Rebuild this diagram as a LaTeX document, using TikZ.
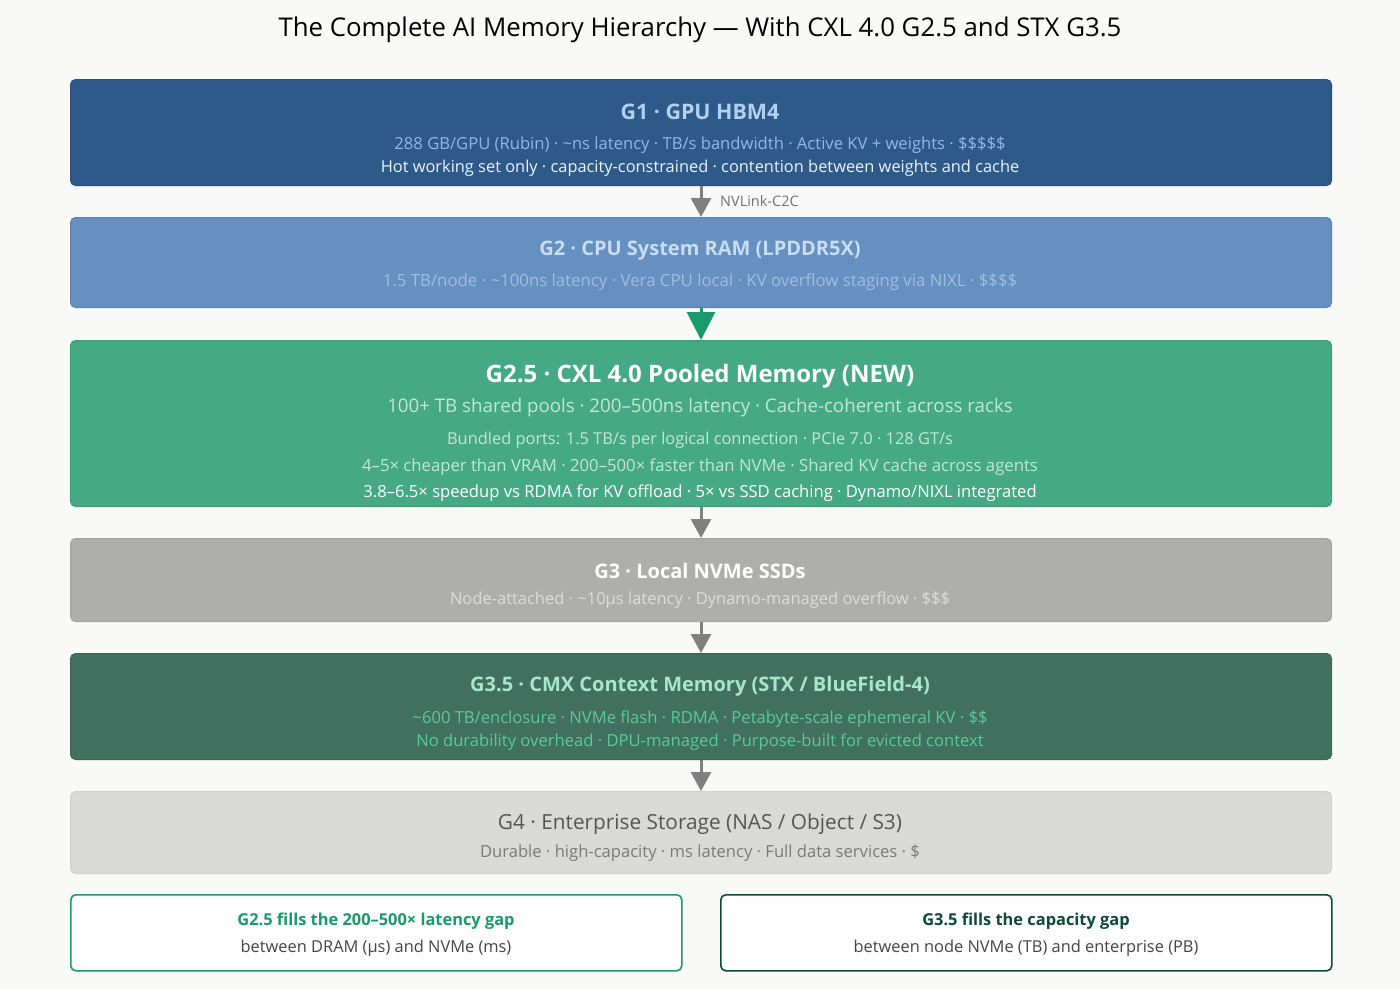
\documentclass[tikz,border=0pt]{standalone}
\usepackage{fontspec}
\setmainfont{Open Sans}
\usetikzlibrary{arrows.meta}
\definecolor{bgc}{HTML}{F9F9F7}
\definecolor{gonefill}{HTML}{2E5A8A}
\definecolor{goneline}{HTML}{285080}
\definecolor{gonetitle}{HTML}{B2D0F0}
\definecolor{gonetext}{HTML}{8FB8E6}
\definecolor{gonetextb}{HTML}{EAF2FA}
\definecolor{gtwofill}{HTML}{6690C0}
\definecolor{gtwoline}{HTML}{5A84B6}
\definecolor{gtwotitle}{HTML}{C8DCF2}
\definecolor{gtwotext}{HTML}{9DBEE3}
\definecolor{garrow}{HTML}{1A9A6C}
\definecolor{gtfifill}{HTML}{45A985}
\definecolor{gtfiline}{HTML}{3C9C79}
\definecolor{gtfitext}{HTML}{C3E7D5}
\definecolor{gthrfill}{HTML}{AEAEAC}
\definecolor{gthrline}{HTML}{A4A4A2}
\definecolor{gthrtext}{HTML}{DCDCDC}
\definecolor{gtffill}{HTML}{417060}
\definecolor{gtfline}{HTML}{3A6656}
\definecolor{gtftitle}{HTML}{A6E6CB}
\definecolor{gtftext}{HTML}{5CC99C}
\definecolor{gfourfill}{HTML}{D9D9D7}
\definecolor{gfourline}{HTML}{D0D0CE}
\definecolor{gfourtitle}{HTML}{555555}
\definecolor{gfourtext}{HTML}{7A7A7A}
\definecolor{notegreen}{HTML}{1A9A6C}
\definecolor{notedark}{HTML}{0E4A38}
\definecolor{notetext}{HTML}{444444}
\definecolor{arrowgray}{HTML}{808080}
\tikzset{
  tier/.style={draw, line width=1pt, rounded corners=5pt, minimum width=1261pt, inner sep=0pt, anchor=north west},
  note/.style={draw, line width=1.6pt, rounded corners=5pt, fill=white, minimum width=611pt, minimum height=76pt, inner sep=0pt, anchor=north west},
  ttl/.style={font=\fontsize{20}{24}\selectfont\bfseries, anchor=center, inner sep=0pt},
  sub/.style={font=\fontsize{16.6}{19}\selectfont, anchor=center, inner sep=0pt},
  flow/.style={draw=arrowgray, line width=3pt, -{Triangle[width=20pt,length=19pt]}},
}
\begin{document}
\begin{tikzpicture}[x=1pt,y=-1pt]
\useasboundingbox[fill=bgc] (0,0) rectangle (1400,989);
\node[font=\fontsize{25.8}{30}\selectfont, anchor=center, inner sep=0pt] (title) at (700,30) {The Complete AI Memory Hierarchy — With CXL 4.0 G2.5 and STX G3.5};

% tiers
\node[tier, fill=gonefill, draw=goneline, minimum height=106pt] (g1) at (70,79) {};
\node[tier, fill=gtwofill, draw=gtwoline, minimum height=90pt] (g2) at (70,217) {};
\node[tier, fill=gtfifill, draw=gtfiline, minimum height=166pt] (g25) at (70,340) {};
\node[tier, fill=gthrfill, draw=gthrline, minimum height=83pt] (g3) at (70,538) {};
\node[tier, fill=gtffill, draw=gtfline, minimum height=106pt] (g35) at (70,653) {};
\node[tier, fill=gfourfill, draw=gfourline, minimum height=82pt] (g4) at (70,791) {};

% G1 text
\node[ttl, font=\fontsize{21.4}{25}\selectfont\bfseries, text=gonetitle] (g1t) at (700,112) {G1 · GPU HBM4};
\node[sub, text=gonetext] (g1a) at (700,145) {288 GB/GPU (Rubin) · \textasciitilde ns latency · TB/s bandwidth · Active KV + weights · \$\$\$\$\$};
\node[sub, font=\fontsize{16.4}{19}\selectfont, text=gonetextb] (g1b) at (700,168) {Hot working set only · capacity-constrained · contention between weights and cache};

% G2 text
\node[ttl, text=gtwotitle] (g2t) at (700,251) {G2 · CPU System RAM (LPDDR5X)};
\node[sub, font=\fontsize{16.8}{19}\selectfont, text=gtwotext] (g2a) at (700,282) {1.5 TB/node · \textasciitilde 100ns latency · Vera CPU local · KV overflow staging via NIXL · \$\$\$\$};

% G2.5 text
\node[ttl, font=\fontsize{24}{28}\selectfont\bfseries, text=white] (g25t) at (700,376) {G2.5 · CXL 4.0 Pooled Memory (NEW)};
\node[sub, font=\fontsize{18.7}{22}\selectfont, text=gtfitext] (g25a) at (700,408) {100+ TB shared pools · 200–500ns latency · Cache-coherent across racks};
\node[sub, font=\fontsize{16.4}{19}\selectfont, text=gtfitext] (g25b) at (700,440) {Bundled ports: 1.5 TB/s per logical connection · PCIe 7.0 · 128 GT/s};
\node[sub, font=\fontsize{16.7}{19}\selectfont, text=gtfitext] (g25c) at (700,467) {4–5× cheaper than VRAM · 200–500× faster than NVMe · Shared KV cache across agents};
\node[sub, font=\fontsize{16.6}{19}\selectfont, text=white] (g25d) at (700,493) {3.8–6.5× speedup vs RDMA for KV offload · 5× vs SSD caching · Dynamo/NIXL integrated};

% G3 text
\node[ttl, text=white] (g3t) at (700,571) {G3 · Local NVMe SSDs};
\node[sub, font=\fontsize{16.5}{19}\selectfont, text=gthrtext] (g3a) at (700,600) {Node-attached · \textasciitilde 10µs latency · Dynamo-managed overflow · \$\$\$};

% G3.5 text
\node[ttl, text=gtftitle] (g35t) at (700,686) {G3.5 · CMX Context Memory (STX / BlueField-4)};
\node[sub, text=gtftext] (g35a) at (700,719) {\textasciitilde 600 TB/enclosure · NVMe flash · RDMA · Petabyte-scale ephemeral KV · \$\$};
\node[sub, text=gtftext] (g35b) at (700,742) {No durability overhead · DPU-managed · Purpose-built for evicted context};

% G4 text
\node[ttl, font=\fontsize{20.8}{24}\selectfont, text=gfourtitle] (g4t) at (700,824) {G4 · Enterprise Storage (NAS / Object / S3)};
\node[sub, text=gfourtext] (g4a) at (700,853) {Durable · high-capacity · ms latency · Full data services · \$};

% arrows
\draw[flow] (g1.south) -- (g2.north);
\node[font=\fontsize{14.5}{17}\selectfont, text=arrowgray!90!black, anchor=west, inner sep=0pt] (nvl) at (720,201) {NVLink-C2C};
\draw[draw=garrow, line width=3pt, -{Triangle[width=28pt,length=28pt]}] (g2.south) -- (g25.north);
\draw[flow] (g25.south) -- (g3.north);
\draw[flow] (g3.south) -- (g35.north);
\draw[flow] (g35.south) -- (g4.north);

% notes
\node[note, draw=notegreen] (n1) at (70,894) {};
\node[sub, text=notegreen, font=\fontsize{16.4}{19}\selectfont\bfseries] (n1t) at (376,921) {G2.5 fills the 200–500× latency gap};
\node[sub, font=\fontsize{16.4}{19}\selectfont, text=notetext] (n1a) at (376,948) {between DRAM (µs) and NVMe (ms)};
\node[note, draw=notedark] (n2) at (720,894) {};
\node[sub, text=notedark, font=\fontsize{16.4}{19}\selectfont\bfseries] (n2t) at (1026,921) {G3.5 fills the capacity gap};
\node[sub, font=\fontsize{16.4}{19}\selectfont, text=notetext] (n2a) at (1026,948) {between node NVMe (TB) and enterprise (PB)};
\end{tikzpicture}
\end{document}
